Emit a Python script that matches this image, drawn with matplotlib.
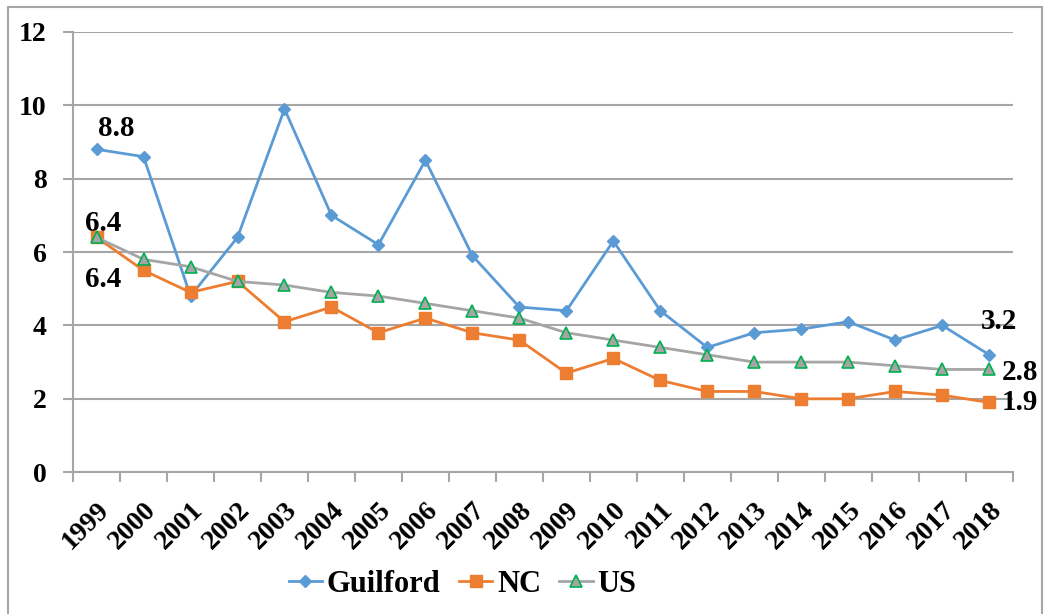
import numpy as np
import matplotlib
matplotlib.use("Agg")
import matplotlib.pyplot as plt
import matplotlib.transforms as mtrans
from matplotlib.patches import Rectangle

years = [str(y) for y in range(1999, 2019)]
guilford = [8.8, 8.6, 4.8, 6.4, 9.9, 7.0, 6.2, 8.5, 5.9, 4.5,
            4.4, 6.3, 4.4, 3.4, 3.8, 3.9, 4.1, 3.6, 4.0, 3.2]
nc = [6.4, 5.5, 4.9, 5.2, 4.1, 4.5, 3.8, 4.2, 3.8, 3.6,
      2.7, 3.1, 2.5, 2.2, 2.2, 2.0, 2.0, 2.2, 2.1, 1.9]
us = [6.4, 5.8, 5.6, 5.2, 5.1, 4.9, 4.8, 4.6, 4.4, 4.2,
      3.8, 3.6, 3.4, 3.2, 3.0, 3.0, 3.0, 2.9, 2.8, 2.8]

FAM = ['Liberation Serif', 'DejaVu Serif']
plt.rcParams['font.family'] = FAM
plt.rcParams['font.weight'] = 'bold'

fig = plt.figure(figsize=(10.44, 6.14), dpi=100)
ax = fig.add_axes([0.070, 0.231, 0.900, 0.717])

# outer chart frame
fig.patches.append(Rectangle((8 / 1044, -0.05), 1034 / 1044, 1.05 - 7 / 614,
                             transform=fig.transFigure, fill=False,
                             edgecolor='#A6A6A6', linewidth=1.5))

x = np.arange(len(years))
ax.plot(x, guilford, color='#5B9BD5', lw=2, marker='D', ms=6.5,
        label='Guilford', zorder=3)
ax.plot(x, nc, color='#ED7D31', lw=2, marker='s', ms=8.5,
        label='NC', zorder=4)
ax.plot(x, us, color='#A5A5A5', lw=2, marker='^', ms=8,
        markerfacecolor='#A5A5A5', markeredgecolor='#00B050', mew=1.2,
        label='US', zorder=5)

ax.set_xlim(-0.5, len(years) - 0.5)
ax.set_ylim(0, 12)
ax.set_yticks(range(0, 13, 2))
ax.yaxis.grid(True, color='#A6A6A6', lw=1.5)
ax.set_axisbelow(True)

ax.set_xticks(x)
ax.set_xticklabels(years, rotation=45, ha='right', rotation_mode='anchor',
                   fontsize=20, fontweight='bold', family=FAM)
shift = mtrans.ScaledTranslation(-8 / 100, 0, fig.dpi_scale_trans)
for lab in ax.get_xticklabels():
    lab.set_transform(lab.get_transform() + shift)
ax.set_xticks(np.arange(-0.5, len(years), 1), minor=True)
ax.tick_params(axis='x', which='major', length=0, pad=18)
ax.tick_params(axis='x', which='minor', length=7, color='#A6A6A6', width=1.5)
ax.tick_params(axis='y', length=7, color='#A6A6A6', width=1.5, pad=12,
               labelsize=20)
for lab in ax.get_yticklabels():
    lab.set_fontweight('bold')
    lab.set_family(FAM)

for s in ['top', 'right']:
    ax.spines[s].set_visible(False)
for s in ['left', 'bottom']:
    ax.spines[s].set_color('#A6A6A6')
    ax.spines[s].set_linewidth(1.5)

# data labels
lab_kw = dict(textcoords='offset points', fontsize=21, fontweight='bold',
              ha='center', va='center', family=FAM)
ax.annotate('8.8', (0, guilford[0]), xytext=(14, 15), **lab_kw)
ax.annotate('6.4', (0, us[0]), xytext=(5, 10), **lab_kw)
ax.annotate('6.4', (0, nc[0]), xytext=(5, -30), **lab_kw)
ax.annotate('3.2', (19, guilford[19]), xytext=(7, 24), **lab_kw)
ax.annotate('2.8', (19, us[19]), xytext=(22, -2), **lab_kw)
ax.annotate('1.9', (19, nc[19]), xytext=(22, 0), **lab_kw)

ax.legend(loc='center', bbox_to_anchor=(0.443, 0.048), bbox_transform=fig.transFigure,
          ncol=3, frameon=False,
          prop={'size': 22, 'weight': 'bold', 'family': FAM},
          handlelength=1.1, handletextpad=0.15, columnspacing=0.6)

fig.savefig('out.png', dpi=100)
